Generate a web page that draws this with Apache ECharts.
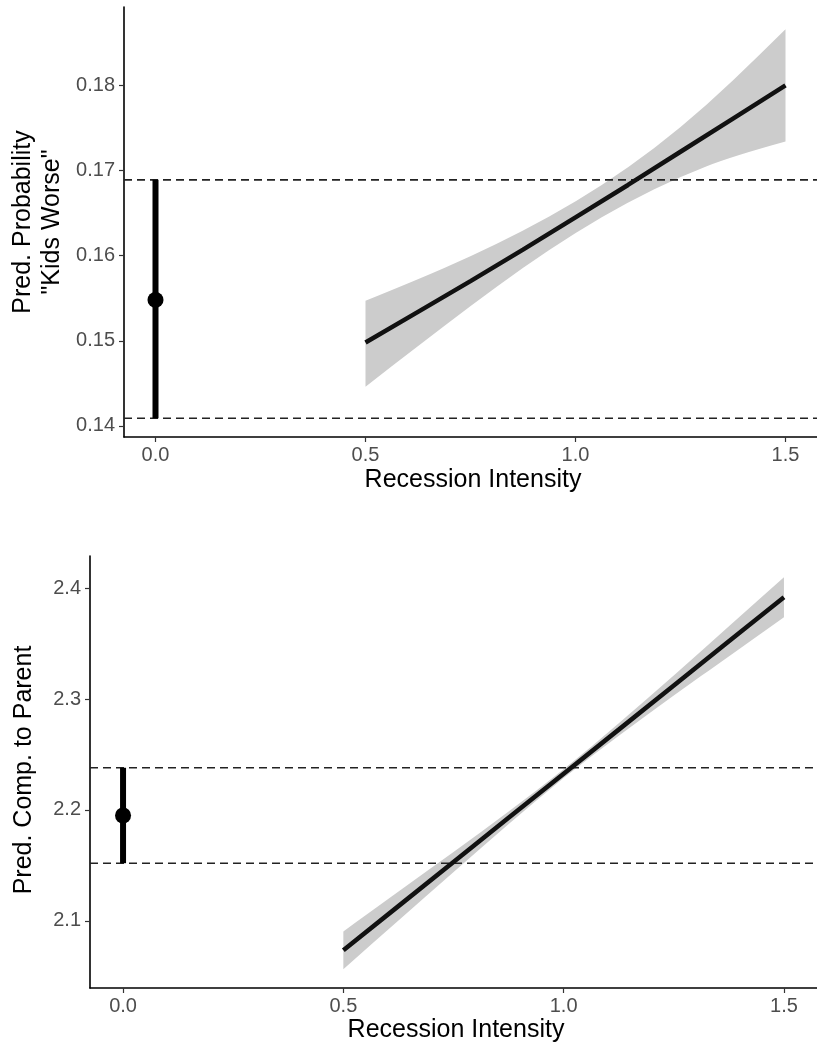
<!DOCTYPE html>
<html>
<head>
<meta charset="utf-8">
<script src="https://cdn.jsdelivr.net/npm/echarts@6/dist/echarts.min.js"></script>
<style>
  html, body { margin: 0; padding: 0; background: #fff; }
  #chart-container { width: 817px; height: 1052px; }
</style>
</head>
<body>
<div id="chart-container"></div>
<script>
// x positions of the fitted curve (recession intensity)
var fitX = [0.5, 0.625, 0.75, 0.875, 1.0, 1.125, 1.25, 1.375, 1.5];
var xTicks = [0, 0.5, 1.0, 1.5];
var xMin = -0.075, xMax = 1.575;

// top panel: predicted probability "kids worse"
var kidsFit   = [0.1498, 0.1534, 0.1570, 0.1607, 0.1645, 0.1683, 0.1722, 0.1761, 0.1800];
var kidsUpper = [0.1547, 0.1572, 0.1599, 0.1629, 0.1663, 0.1703, 0.1750, 0.1805, 0.1866];
var kidsLower = [0.1446, 0.1494, 0.1541, 0.1586, 0.1627, 0.1663, 0.1693, 0.1717, 0.1734];
var kidsPoint = 0.1548;
var kidsLo = 0.1409;
var kidsHi = 0.1689;
var kidsTicks = [0.14, 0.15, 0.16, 0.17, 0.18];

// bottom panel: predicted comparison to parent
var compFit   = [2.0735, 2.1133, 2.1531, 2.1929, 2.2327, 2.2724, 2.3122, 2.3520, 2.3918];
var compUpper = [2.0905, 2.1263, 2.1621, 2.1983, 2.2362, 2.2778, 2.3212, 2.3655, 2.4098];
var compLower = [2.0565, 2.1003, 2.1441, 2.1875, 2.2292, 2.2670, 2.3032, 2.3385, 2.3738];
var compPoint = 2.195;
var compLo = 2.152;
var compHi = 2.238;
var compTicks = [2.1, 2.2, 2.3, 2.4];

var FONT = "'Liberation Sans', Arial, sans-serif";

var dom = document.getElementById('chart-container');
var myChart = echarts.init(dom, null, { renderer: 'canvas' });

function xAxisFor(grid) {
  return {
    type: 'value', gridIndex: grid, min: xMin, max: xMax,
    splitLine: { show: false },
    axisLine: { lineStyle: { color: '#000', width: 1.6 } },
    axisTick: { customValues: xTicks, length: 5, lineStyle: { color: '#333', width: 1.2 } },
    axisLabel: {
      customValues: xTicks, margin: 8, color: '#4d4d4d', fontSize: 20, fontFamily: FONT,
      formatter: function (v) { return v.toFixed(1); }
    }
  };
}

function yAxisFor(grid, min, max, ticks, digits) {
  return {
    type: 'value', gridIndex: grid, min: min, max: max,
    splitLine: { show: false },
    axisLine: { onZero: false, lineStyle: { color: '#000', width: 1.6 } },
    axisTick: { customValues: ticks, length: 5, lineStyle: { color: '#333', width: 1.2 } },
    axisLabel: {
      customValues: ticks, margin: 9, color: '#4d4d4d', fontSize: 20, fontFamily: FONT,
      formatter: function (v) { return v.toFixed(digits); }
    }
  };
}

// smooth path through the given pixel points (quadratic curves via midpoints)
function smoothSegment(pts, start) {
  var d = (start ? 'M' : 'L') + pts[0][0] + ' ' + pts[0][1];
  for (var i = 1; i < pts.length - 1; i++) {
    var mx = (pts[i][0] + pts[i + 1][0]) / 2, my = (pts[i][1] + pts[i + 1][1]) / 2;
    d += ' Q' + pts[i][0] + ' ' + pts[i][1] + ' ' + mx + ' ' + my;
  }
  var last = pts[pts.length - 1];
  return d + ' L' + last[0] + ' ' + last[1];
}

// confidence band drawn through the axis scales
function ribbon(idx, upper, lower) {
  return {
    type: 'custom', xAxisIndex: idx, yAxisIndex: idx, silent: true, z: 1,
    data: [[fitX[0], lower[0]]],
    renderItem: function (params, api) {
      var up = fitX.map(function (x, i) { return api.coord([x, upper[i]]); });
      var dn = fitX.map(function (x, i) { return api.coord([x, lower[i]]); }).reverse();
      var d = smoothSegment(up, true) + ' ' + smoothSegment(dn, false) + ' Z';
      return { type: 'path', shape: { pathData: d }, style: { fill: '#cccccc' } };
    }
  };
}

function dashed(idx, y) {
  return {
    type: 'line', xAxisIndex: idx, yAxisIndex: idx, z: 2, showSymbol: false, silent: true,
    data: [[xMin, y], [xMax, y]],
    lineStyle: { color: '#222', width: 1.6, type: [8, 5] }
  };
}

function panelSeries(idx, fit, upper, lower, point, lo, hi) {
  return [
    ribbon(idx, upper, lower),
    dashed(idx, lo),
    dashed(idx, hi),
    {
      type: 'line', xAxisIndex: idx, yAxisIndex: idx, z: 3, showSymbol: false,
      data: fitX.map(function (x, i) { return [x, fit[i]]; }),
      lineStyle: { color: '#111', width: 4.5 }
    },
    {
      type: 'line', xAxisIndex: idx, yAxisIndex: idx, z: 3, showSymbol: false,
      data: [[0, lo], [0, hi]],
      lineStyle: { color: '#000', width: 6 }
    },
    {
      type: 'scatter', xAxisIndex: idx, yAxisIndex: idx, z: 4,
      symbolSize: 16, itemStyle: { color: '#000', opacity: 1 },
      data: [[0, point]]
    }
  ];
}

var option = {
  animation: false,
  backgroundColor: '#fff',
  grid: [
    { left: 124, top: 7, width: 698, height: 430 },
    { left: 90, top: 556, width: 731, height: 432 }
  ],
  xAxis: [xAxisFor(0), xAxisFor(1)],
  yAxis: [
    yAxisFor(0, 0.1387, 0.1892, kidsTicks, 2),
    yAxisFor(1, 2.0395, 2.4289, compTicks, 1)
  ],
  graphic: [
    { type: 'text', x: 473, y: 480, style: { text: 'Recession Intensity', font: '25px ' + FONT, fill: '#000', align: 'center', verticalAlign: 'middle' } },
    { type: 'text', x: 456, y: 1030, style: { text: 'Recession Intensity', font: '25px ' + FONT, fill: '#000', align: 'center', verticalAlign: 'middle' } },
    { type: 'text', x: 38, y: 222, rotation: Math.PI / 2, style: { text: 'Pred. Probability\n"Kids Worse"', font: '25px ' + FONT, lineHeight: 29, fill: '#000', align: 'center', verticalAlign: 'middle' } },
    { type: 'text', x: 24, y: 770, rotation: Math.PI / 2, style: { text: 'Pred. Comp. to Parent', font: '25px ' + FONT, fill: '#000', align: 'center', verticalAlign: 'middle' } }
  ],
  series: panelSeries(0, kidsFit, kidsUpper, kidsLower, kidsPoint, kidsLo, kidsHi)
    .concat(panelSeries(1, compFit, compUpper, compLower, compPoint, compLo, compHi))
};

myChart.setOption(option);
window.addEventListener('resize', myChart.resize);
</script>
</body>
</html>
